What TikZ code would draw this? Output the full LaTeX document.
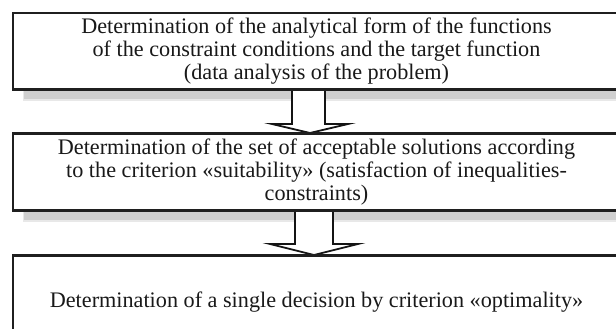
\documentclass[tikz,border=0pt]{standalone}
\usepackage{fontspec}
\setmainfont{Liberation Serif}
\usetikzlibrary{calc}
\begin{document}
\begin{tikzpicture}[x=1pt,y=-1pt,
  stepbox/.style={draw=black!88, line width=2pt, fill=white, text=black!90, align=center,
    font=\fontsize{22.2}{22.6}\selectfont, inner sep=0pt, minimum width=607pt, minimum height=76pt},
  shadowbox/.style={fill=black!19, draw=black!9, line width=1.2pt},
  blockarrow/.style={draw=black!92, line width=1.8pt, fill=white, line join=miter}]
\useasboundingbox (0,0) rectangle (616,329);
\clip (0,0) rectangle (616,329);
% shadows
\draw[shadowbox] (23.5,30) rectangle (640,100);
\draw[shadowbox] (23.5,150) rectangle (640,221);
% boxes
\path (316.5,51) coordinate (c1) (316.5,172) coordinate (c2) (316.5,302) coordinate (c3);
\node[stepbox] (b1) at (c1) {Determination of the analytical form of the functions\\of the constraint conditions and the target function\\(data analysis of the problem)};
\node[stepbox] (b2) at (c2) {Determination of the set of acceptable solutions according\\to the criterion «suitability» (satisfaction of inequalities-\\constraints)};
\node[stepbox, minimum height=92pt] (b3) at (c3) {Determination of a single decision by criterion «optimality»};
% arrows
\coordinate (t1) at ($(b2.north)+(-6.5,0)$);
\coordinate (t2) at ($(b3.north)+(-2.5,0)$);
\draw[blockarrow] ($(b1.south)+(-24.5,0)$) -- ++(0,34) -- ++(-20,0) -- (t1)
  -- ($(b1.south)+(31.5,34)$) -- ++(-23,0) -- ++(0,-34);
\draw[blockarrow] ($(b2.south)+(-21.5,0)$) -- ++(0,33) -- ++(-25,0) -- (t2)
  -- ($(b2.south)+(41.5,33)$) -- ++(-25,0) -- ++(0,-33);
% redraw box borders over arrow ends
\draw[draw=black!88, line width=2pt] (b1.south west) -- (b1.south east);
\draw[draw=black!88, line width=2pt] (b2.south west) -- (b2.south east);
\draw[draw=black!88, line width=2pt] (b2.north west) -- (b2.north east);
\draw[draw=black!88, line width=2pt] (b3.north west) -- (b3.north east);
\end{tikzpicture}
\end{document}
